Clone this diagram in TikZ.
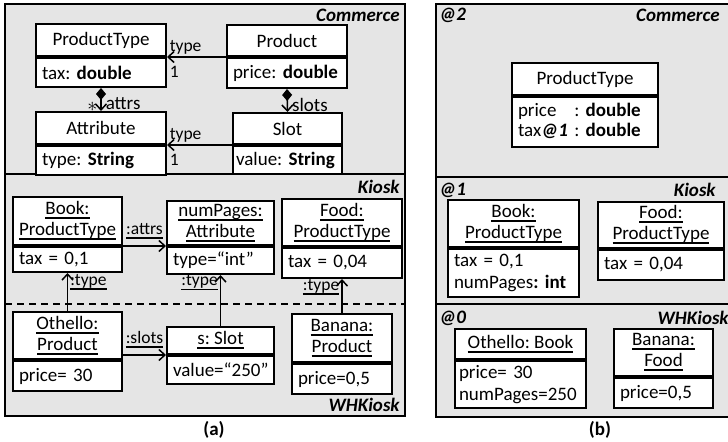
\documentclass[tikz,border=0pt]{standalone}
\usepackage{fontspec}
\setmainfont{Carlito}
\usetikzlibrary{positioning,arrows.meta}
\frenchspacing

\newsavebox\undlbox
\newcommand\undl[1]{\sbox\undlbox{#1}\leavevmode\rlap{\rule[-2.2pt]{\wd\undlbox}{0.9pt}}\usebox\undlbox}

\tikzset{
  frame/.style={draw=black, line width=1pt, fill={rgb,255:red,229;green,229;blue,229}},
  head/.style={draw, line width=1pt, fill=white, inner sep=0pt, align=center, font=\fontsize{9.5}{10.5}\selectfont},
  body/.style={draw, line width=1pt, fill=white, inner xsep=3pt, inner ysep=0pt, align=left, font=\fontsize{9.5}{11}\selectfont, execute at begin node={\hyphenpenalty=10000}},
  lbl/.style={inner sep=1pt, font=\fontsize{8.75}{10}\selectfont},
  title/.style={inner sep=0pt, font=\fontsize{9.5}{11}\selectfont\bfseries\itshape},
  assoc/.style={line width=0.75pt, -{Straight Barb[length=3pt,width=5.5pt]}},
  comp/.style={line width=0.75pt, {Diamond[length=6pt,width=5pt]}-{Straight Barb[length=3pt,width=5.5pt]}},
}

\begin{document}
\begin{tikzpicture}[x=0.5pt,y=0.5pt,yscale=-1]
\useasboundingbox (0,0) rectangle (728,442);

%Shape: Rectangle (a)
\draw[frame] (5,4) rectangle (405,416);
\draw[line width=1pt] (5,174) -- (405,174);
\draw[line width=0.75pt, dash pattern={on 3.5pt off 2.5pt}] (5,304) -- (405,304);
%Shape: Rectangle (b)
\draw[frame] (436,4) rectangle (740,417);
\draw[line width=1pt] (436,177) -- (740,177);
\draw[line width=1pt] (436,304) -- (740,304);

% Text Node
\node[title, anchor=east] (comA) at (400,15) {Commerce};
\node[title, anchor=east] (kioA) at (400,187) {Kiosk};
\node[title, anchor=east] (whkA) at (400,405) {WHKiosk};
\node[title, anchor=west] (lvlTwo) at (439,15) {@2};
\node[title, anchor=east] (comB) at (720,15) {Commerce};
\node[title, anchor=west] (lvlOne) at (439,190) {@1};
\node[title, anchor=east] (kioB) at (716,190) {Kiosk};
\node[title, anchor=west] (lvlZero) at (439,318) {@0};
\node[title, anchor=east] (whkB) at (729,318) {WHKiosk};
\node[font=\fontsize{9.5}{11}\selectfont\bfseries] (capA) at (214,430) {(a)};
\node[font=\fontsize{9.5}{11}\selectfont\bfseries] (capB) at (600,430) {(b)};

%Class: ProductType
\node[head, minimum width=65pt, minimum height=16pt] (ptype) at (101,40) {ProductType};
\node[body, text width=59pt, minimum height=14.5pt, below=0pt of ptype] (ptypeb) {tax: \textbf{double}};
%Class: Product
\node[head, minimum width=60pt, minimum height=15.5pt] (prod) at (287,40.5) {Product};
\node[body, text width=54pt, minimum height=15pt, below=0pt of prod] (prodb) {price: \textbf{double}};
%Class: Attribute
\node[head, minimum width=65pt, minimum height=16pt] (attr) at (101,128) {Attribute};
\node[body, text width=59pt, minimum height=14.5pt, below=0pt of attr] (attrb) {type: \textbf{String}};
%Class: Slot
\node[head, minimum width=54.5pt, minimum height=15.5pt] (slot) at (287.5,128.5) {Slot};
\node[body, inner xsep=1.5pt, text width=51.5pt, minimum height=14pt, below=0pt of slot] (slotb) {value: \textbf{String}};

%Object: Book
\node[head, minimum width=54.5pt, minimum height=24pt] (bk) at (67.5,221) {\undl{Book:}\\\undl{ProductType}};
\node[body, text width=48.5pt, minimum height=12.5pt, below=0pt of bk] (bkb) {tax = 0,1};
%Object: numPages
\node[head, minimum width=53.5pt, minimum height=22pt] (np) at (220.5,223) {\undl{numPages:}\\\undl{Attribute}};
\node[body, text width=47.5pt, minimum height=13.5pt, below=0pt of np] (npb) {type=“int”};
%Object: Food
\node[head, minimum width=60pt, minimum height=23.5pt] (fd) at (342,222.5) {\undl{Food:}\\\undl{ProductType}};
\node[body, text width=54pt, minimum height=15pt, below=0pt of fd] (fdb) {tax = 0,04};
%Object: Othello
\node[head, minimum width=54.5pt, minimum height=23.5pt] (oth) at (67.5,335.5) {\undl{Othello:}\\\undl{Product}};
\node[body, text width=48.5pt, minimum height=15pt, below=0pt of oth] (othb) {price= 30};
%Object: s
\node[head, minimum width=53.5pt, minimum height=13.5pt] (ss) at (220.5,340.5) {\undl{s: Slot}};
\node[body, text width=47.5pt, minimum height=14pt, below=0pt of ss] (ssb) {value=“250”};
%Object: Banana
\node[head, minimum width=50pt, minimum height=24pt] (ban) at (342,338) {\undl{Banana:}\\\undl{Product}};
\node[body, text width=44pt, minimum height=15pt, below=0pt of ban] (banb) {price=0,5};

%Class: ProductType @2
\node[head, minimum width=73pt, minimum height=16pt] (ptTwo) at (585,79) {ProductType};
\node[body, text width=67pt, minimum height=25pt, below=0pt of ptTwo] (ptTwob) {\begin{tabular}{@{}l@{ }l@{}}price & : \textbf{double}\\[-1pt] tax\textbf{\textit{@1}} & : \textbf{double}\end{tabular}};
%Object: Book @1
\node[head, minimum width=65.5pt, minimum height=23.5pt] (bkTwo) at (513.5,223.5) {\undl{Book:}\\\undl{ProductType}};
\node[body, text width=59.5pt, minimum height=24pt, below=0pt of bkTwo] (bkTwob) {tax = 0,1\\numPages\textbf{: int}};
%Object: Food @1
\node[head, minimum width=63pt, minimum height=23pt] (fdTwo) at (661,225) {\undl{Food:}\\\undl{ProductType}};
\node[body, text width=57pt, minimum height=15pt, below=0pt of fdTwo] (fdTwob) {tax = 0,04};
%Object: Othello @0
\node[head, minimum width=65.5pt, minimum height=15pt] (othTwo) at (520.5,344) {\undl{Othello: Book}};
\node[body, inner xsep=2pt, text width=61.5pt, minimum height=23.5pt, below=0pt of othTwo] (othTwob) {price= 30\\numPages=250};
%Object: Banana @0
\node[head, minimum width=49.5pt, minimum height=23.5pt] (banTwo) at (663.5,352.5) {\undl{Banana:}\\\undl{Food}};
\node[body, text width=43.5pt, minimum height=15pt, below=0pt of banTwo] (banTwob) {price=0,5};

%Straight Lines
\draw[assoc] (prod.south west) -- (ptype.south east)
  node[lbl, pos=1, anchor=south west] (tyA) {type}
  node[lbl, pos=1, anchor=north west, yshift=-3pt] (oneA) {1};
\draw[assoc] (slot.south west) -- (attr.south east)
  node[lbl, pos=1, anchor=south west] (tyB) {type}
  node[lbl, pos=1, anchor=north west, yshift=-3pt] (oneB) {1};
\draw[comp] (ptypeb.south) -- (attr.north)
  node[inner sep=1pt, pos=0.68, anchor=west, xshift=1pt, font=\fontsize{9.5}{11}\selectfont] (attrsL) {attrs}
  node[inner sep=1pt, pos=0.82, anchor=east, xshift=-0.5pt] (starL) {$\ast$};
\draw[comp] (prodb.south) -- (slot.north)
  node[inner sep=1pt, pos=0.68, anchor=west, xshift=1pt, font=\fontsize{9.5}{11}\selectfont] (slotsL) {slots};

\draw[assoc] (bk.south east) -- (np.south west)
  node[lbl, midway, above, yshift=2pt] (attrsO) {\undl{:attrs}};
\draw[assoc] (oth.north) -- (bkb.south)
  node[lbl, pos=0.76, anchor=west] (tyO) {\undl{:type}};
\draw[assoc] (ss.north) -- (npb.south)
  node[lbl, pos=0.85, anchor=east] (tyS) {\undl{:type}};
\draw[assoc] (ban.north) -- (fdb.south)
  node[lbl, pos=0.76, anchor=east] (tyBn) {\undl{:type}};
\draw[assoc] (oth.east |- ss.south) -- (ss.south west)
  node[lbl, midway, above, yshift=2pt] (slotsO) {\undl{:slots}};

\end{tikzpicture}
\end{document}
